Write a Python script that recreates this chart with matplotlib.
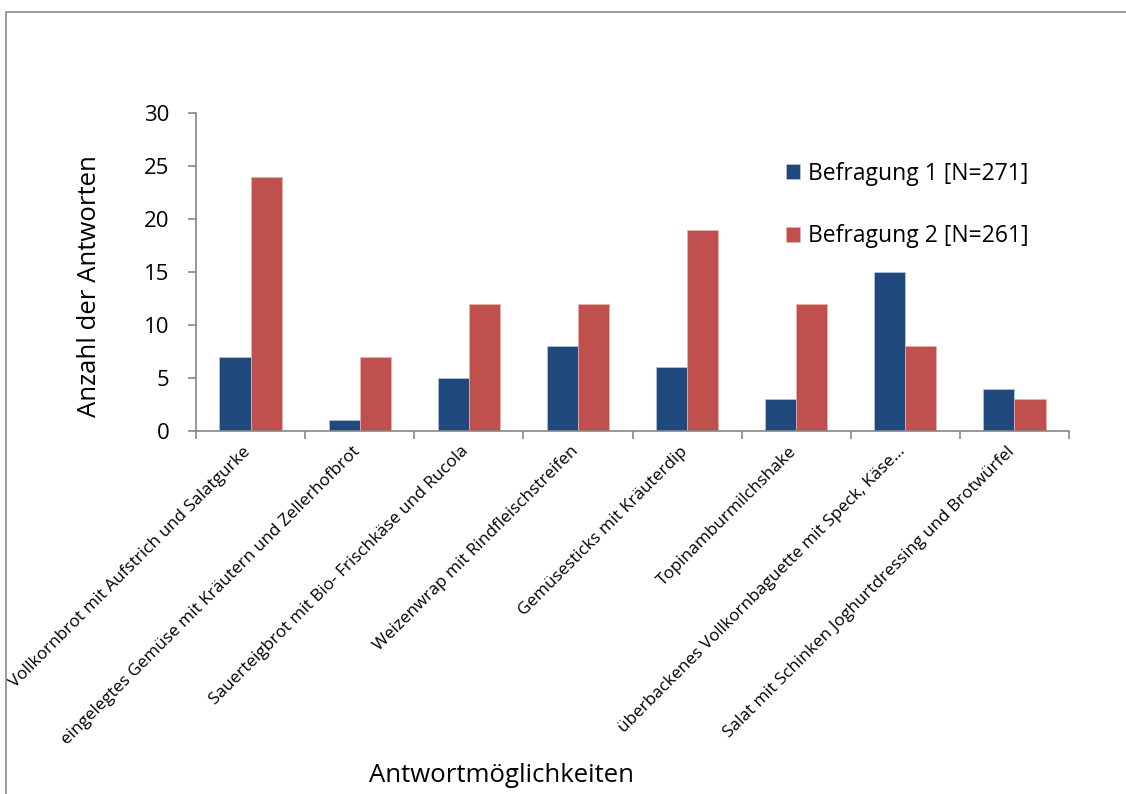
import numpy as np
import matplotlib.pyplot as plt
import matplotlib.transforms as mtransforms
from matplotlib.patches import Rectangle

plt.rcParams['font.family'] = ['Open Sans', 'DejaVu Sans']

categories = [
    "Vollkornbrot mit Aufstrich und Salatgurke",
    "eingelegtes Gemüse mit Kräutern und Zellerhofbrot",
    "Sauerteigbrot mit Bio- Frischkäse und Rucola",
    "Weizenwrap mit Rindfleischstreifen",
    "Gemüsesticks mit Kräuterdip",
    "Topinamburmilchshake",
    "überbackenes Vollkornbaguette mit Speck, Käse…",
    "Salat mit Schinken Joghurtdressing und Brotwürfel",
]
befragung1 = [7, 1, 5, 8, 6, 3, 15, 4]
befragung2 = [24, 7, 12, 12, 19, 12, 8, 3]
series_names = ["Befragung 1 [N=271]", "Befragung 2 [N=261]"]
colors = ["#1F497D", "#C0504D"]

W, H = 1126, 794
fig = plt.figure(figsize=(W / 100, H / 100), dpi=100)

# chart frame (left + top visible, rest cut off)
fig.add_artist(Rectangle((6 / W, -0.1), 1.2, 1 - 12 / H + 0.1, transform=fig.transFigure,
                         fill=False, edgecolor='#8c8c8c', linewidth=1.2))

ax = fig.add_axes([196 / W, 1 - 431 / H, (1069 - 196) / W, (431 - 113) / H])

x = np.arange(len(categories))
bw = 0.285
ax.bar(x - bw / 2, befragung1, bw, color=colors[0], edgecolor='#b9c7da', linewidth=0.5,
       label=series_names[0])
ax.bar(x + bw / 2, befragung2, bw, color=colors[1], edgecolor='#e4b3b1', linewidth=0.5,
       label=series_names[1])

ax.set_xlim(-0.5, len(categories) - 0.5)
ax.set_ylim(0, 30)
ax.set_yticks(range(0, 31, 5))
ax.tick_params(axis='y', labelsize=16, length=6, width=1.2, color='#868686', pad=13)

ax.set_xticks(np.arange(-0.5, len(categories), 1))
ax.set_xticks(x, minor=True)
ax.tick_params(axis='x', which='major', length=6, width=1.2, color='#868686', labelbottom=False)
ax.tick_params(axis='x', which='minor', length=0, pad=9)
ax.set_xticklabels(categories, minor=True, rotation=45, ha='right', rotation_mode='anchor',
                   fontsize=12.3)
shift = mtransforms.ScaledTranslation(-8 / 100, 0, fig.dpi_scale_trans)
for lbl in ax.get_xticklabels(minor=True):
    lbl.set_transform(lbl.get_transform() + shift)

for s in ['top', 'right']:
    ax.spines[s].set_visible(False)
for s in ['left', 'bottom']:
    ax.spines[s].set_color('#868686')
    ax.spines[s].set_linewidth(1.2)

fig.text(90 / W, 1 - 286 / H, "Anzahl der Antworten", fontsize=18.5, rotation=90,
         ha='center', va='center')
fig.text(502 / W, 1 - 775 / H, "Antwortmöglichkeiten", fontsize=18.5, ha='center', va='center')

leg = ax.legend(loc='upper left', bbox_to_anchor=(0.676, 0.847), fontsize=16.5, frameon=False,
                handlelength=0.62, handleheight=0.62, handletextpad=0.35, labelspacing=1.68,
                borderpad=0, borderaxespad=0)

fig.savefig('out.png', dpi=100)
